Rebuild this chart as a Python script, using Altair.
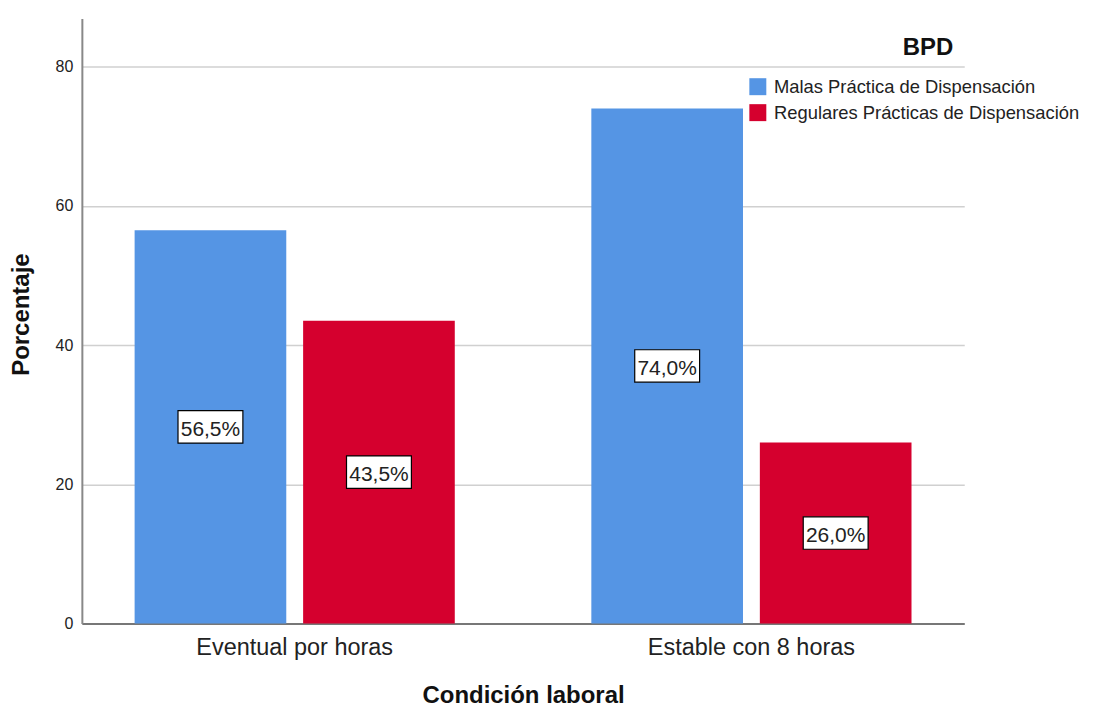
import altair as alt
import pandas as pd

categories = ["Eventual por horas", "Estable con 8 horas"]
series = ["Malas Práctica de Dispensación", "Regulares Prácticas de Dispensación"]
malas = [56.5, 74.0]
regulares = [43.5, 26.0]
colors = ["#5595E4", "#D5002E"]

rows = []
for i, c in enumerate(categories):
    for s, vals in zip(series, [malas, regulares]):
        v = vals[i]
        rows.append({"cat": c, "serie": s, "val": v, "mid": v / 2,
                     "label": f"{v:.1f}%".replace(".", ",")})
df = pd.DataFrame(rows)

FONT = "Liberation Sans"

x_enc = alt.X("cat:N", sort=categories,
              scale=alt.Scale(paddingInner=0.299, paddingOuter=0.1155),
              axis=alt.Axis(title="Condición laboral", labelAngle=0, labelFontSize=23.5,
                            labelFont=FONT, labelColor="#222", labelPadding=12, labelLimit=0,
                            ticks=False, domainColor="#777", domainWidth=2,
                            titleFontSize=24, titleFont=FONT, titleFontWeight="bold",
                            titleColor="#111", titleY=72, titleBaseline="middle"))
xoff = alt.XOffset("serie:N", sort=series,
                   scale=alt.Scale(paddingInner=0.1, paddingOuter=0))
yscale = alt.Scale(domain=[0, 86.9], nice=False)

base = alt.Chart(df).encode(x=x_enc, xOffset=xoff)

bars = base.mark_bar().encode(
    y=alt.Y("val:Q", scale=yscale,
            axis=alt.Axis(title="Porcentaje", values=[0, 20, 40, 60, 80], ticks=False,
                          labelFontSize=16, labelFont=FONT, labelColor="#222", labelPadding=9,
                          domainColor="#888", domainWidth=2,
                          gridColor="#d0d0d0", gridWidth=1.5,
                          titleFontSize=24, titleFont=FONT, titleFontWeight="bold",
                          titleColor="#111", titleX=-60, titleY=296, titleAngle=-90,
                          titleAlign="center", titleBaseline="middle")),
    color=alt.Color("serie:N", sort=series,
                    scale=alt.Scale(domain=series, range=colors),
                    legend=alt.Legend(title=None, orient="none", legendX=668, legendY=59,
                                      symbolType="square", symbolSize=289,
                                      symbolStrokeWidth=0, labelFontSize=18.4,
                                      labelFont=FONT, labelColor="#222", labelLimit=0,
                                      rowPadding=7, padding=0, labelOffset=7)),
)

box_path = "M-1,-0.5H1V0.5H-1Z"
boxes = base.mark_point(shape=box_path, size=4225, filled=True, fill="white",
                        stroke="black", strokeWidth=1.2, opacity=1).encode(
    y=alt.Y("mid:Q", scale=yscale))
texts = base.mark_text(fontSize=21, font=FONT, color="#222", dy=3).encode(
    y=alt.Y("mid:Q", scale=yscale), text="label:N")

chart = alt.layer(bars, boxes, texts).properties(
    width=884, height=606,
    padding={"left": 74, "top": 10, "right": 138, "bottom": 84},
    autosize=alt.AutoSizeParams(type="none"),
    title=alt.TitleParams("BPD", anchor="end", frame="group", fontSize=24, fontWeight="bold",
                          font=FONT, color="#111", dx=-11, dy=60, offset=0,
                          baseline="alphabetic"),
).configure_view(stroke=None).configure_axis(labelFontWeight="normal")

chart.save("out.html", embed_options={"renderer": "svg", "actions": False})
